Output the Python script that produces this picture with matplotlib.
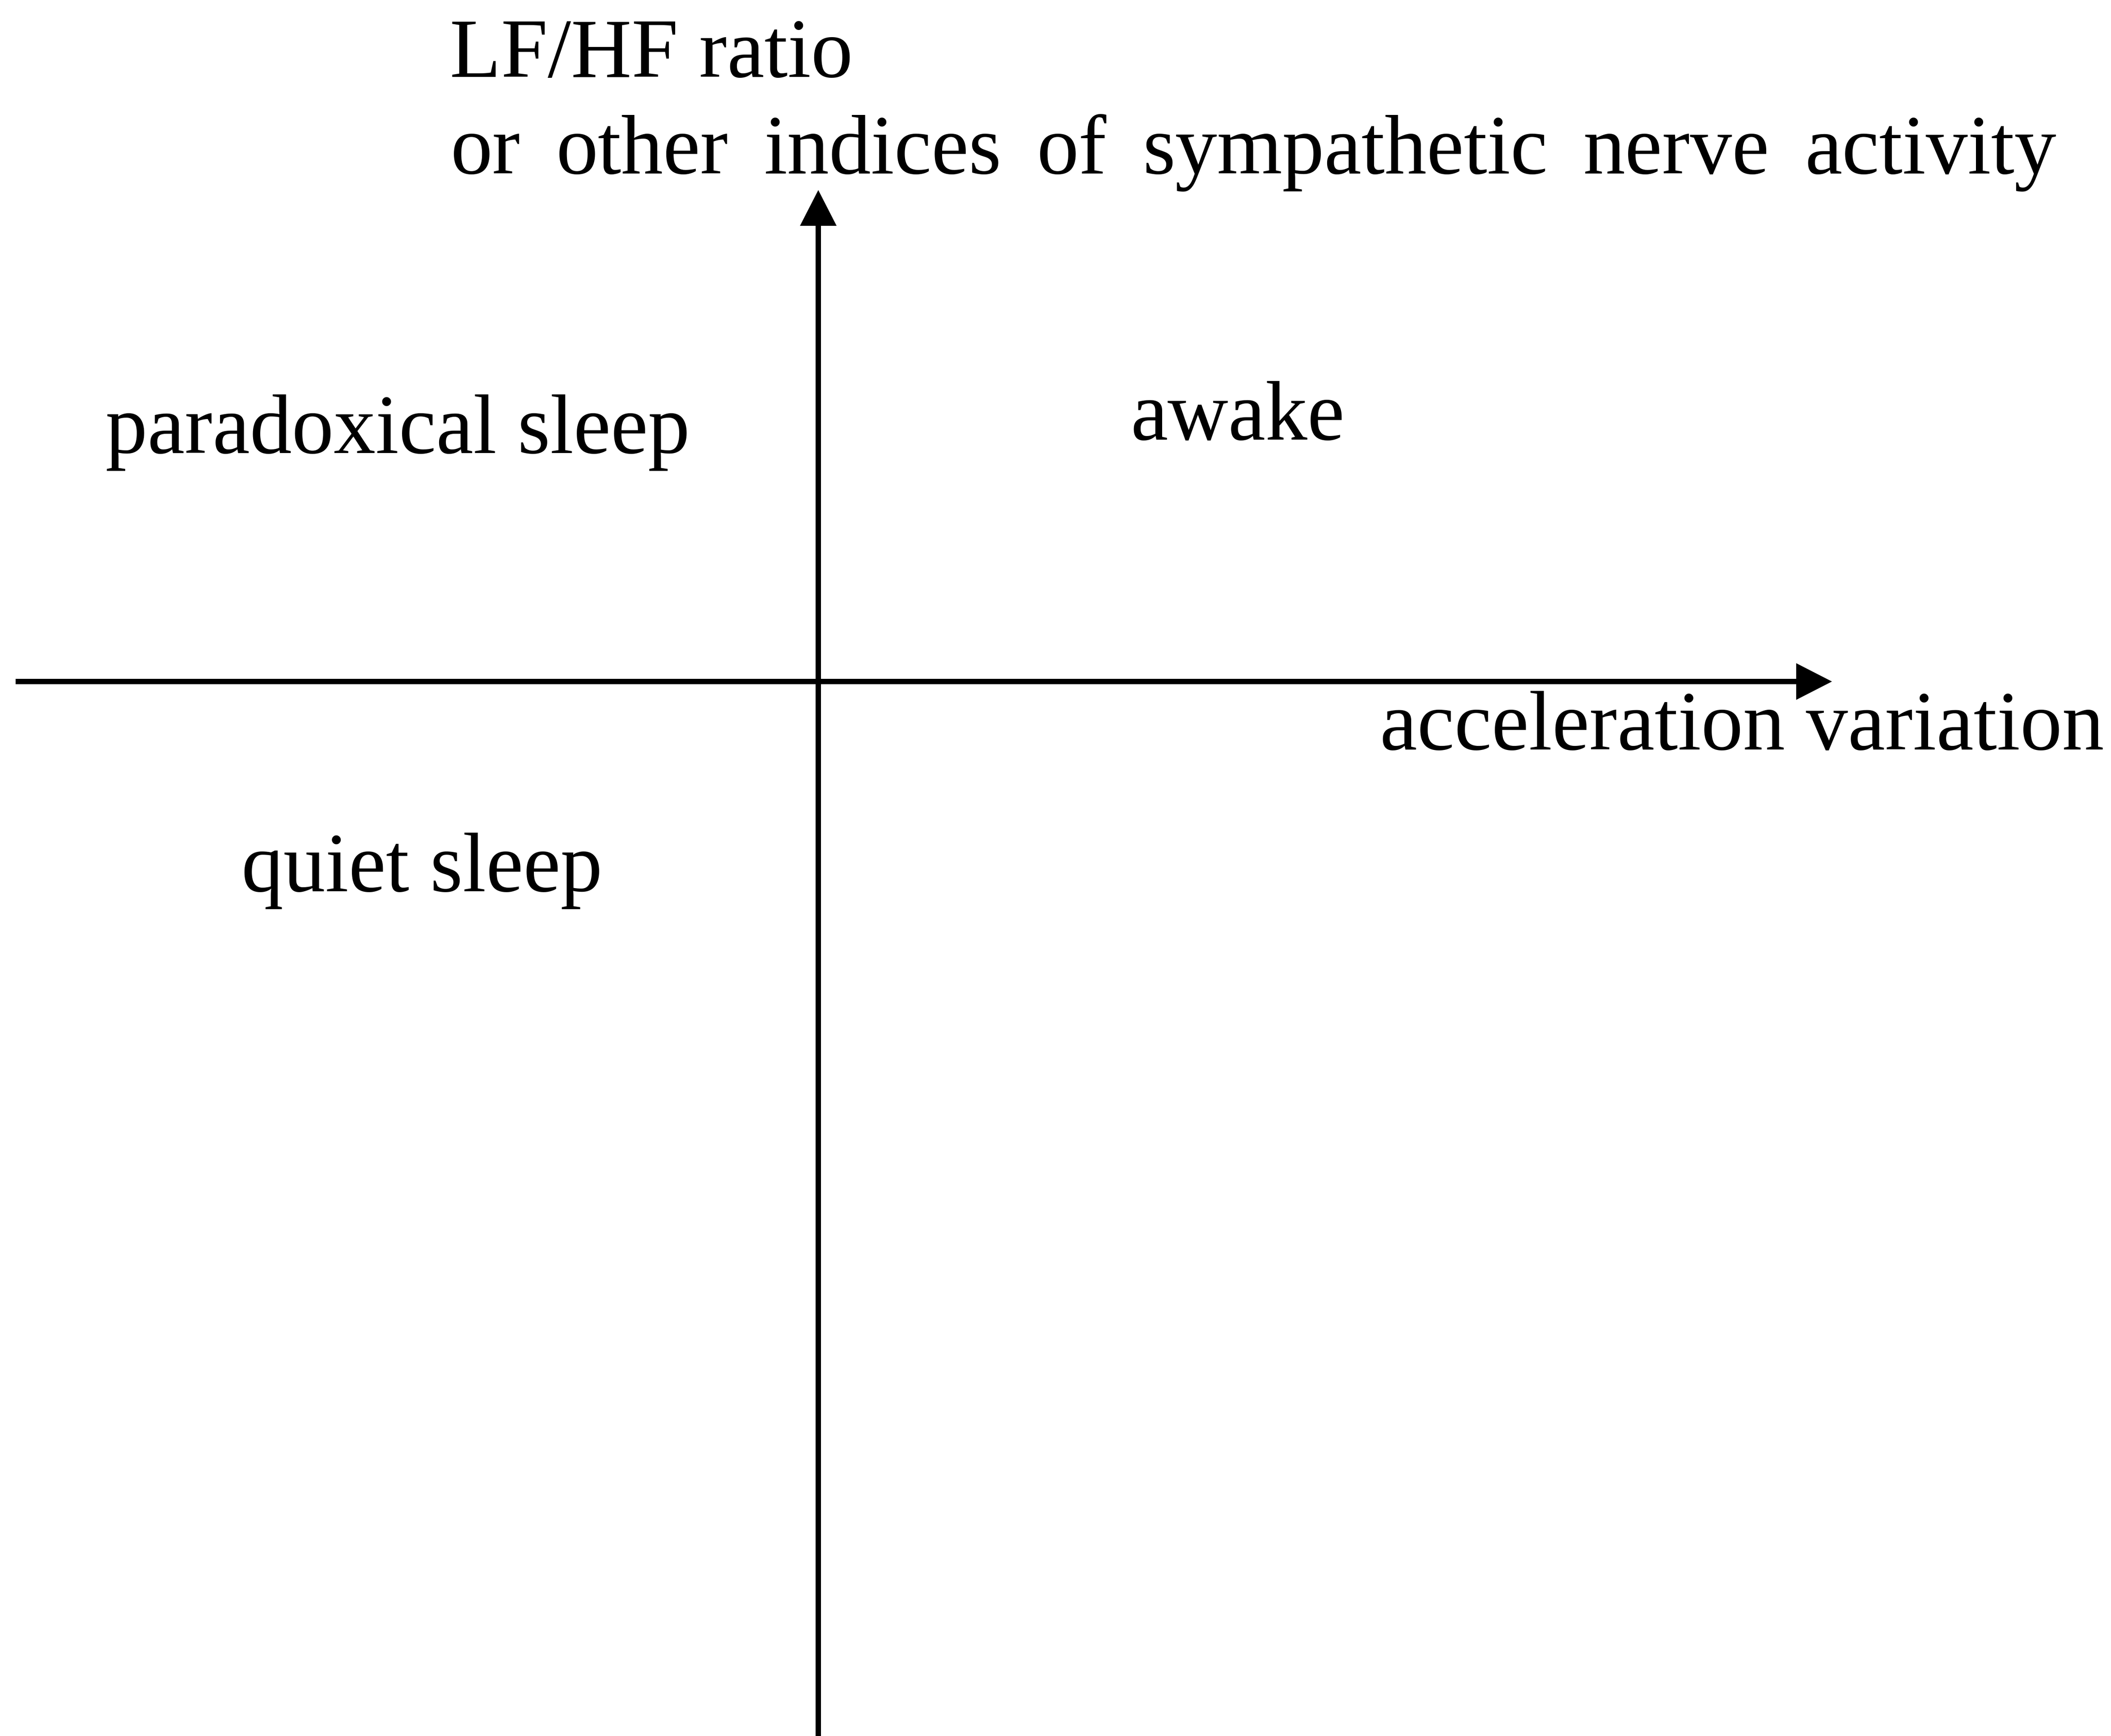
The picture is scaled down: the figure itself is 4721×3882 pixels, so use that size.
import matplotlib
matplotlib.use("Agg")
import matplotlib.pyplot as plt

# ---- content ----
y_axis_label_line1 = "LF/HF ratio"
y_axis_label_line2_words = ["or", "other", "indices", "of", "sympathetic", "nerve", "activity"]
x_axis_label = "acceleration variation"
quadrant_labels = ["paradoxical sleep", "awake", "quiet sleep"]

# ---- layout (pixel coordinates of the 4721x3882 canvas) ----
W, H = 4721, 3882
origin = (1830, 1524)
x_axis_start, x_axis_tip = 35, 4097
y_axis_start, y_axis_tip = 3890, 425
ylabel1_pos = (1006, 172)
ylabel2_baseline = 388
ylabel2_span = (1008, 4599)   # justified line: left and right edge
xlabel_pos = (3086, 1676)
quadrant_pos = [(236, 1013), (2528, 983), (540, 1993)]
FS = 135
LW = 12
HEAD_W, HEAD_L = 82, 80

fig = plt.figure(figsize=(W / 100, H / 100), dpi=100)
ax = fig.add_axes([0, 0, 1, 1])
ax.set_xlim(0, W)
ax.set_ylim(H, 0)
ax.axis("off")

# horizontal axis with arrow
ax.arrow(x_axis_start, origin[1], x_axis_tip - x_axis_start, 0, width=LW,
         head_width=HEAD_W, head_length=HEAD_L, length_includes_head=True,
         color="black", linewidth=0)
# vertical axis with arrow
ax.arrow(origin[0], y_axis_start, 0, y_axis_tip - y_axis_start, width=LW,
         head_width=HEAD_W, head_length=HEAD_L, length_includes_head=True,
         color="black", linewidth=0)

font = dict(family=["Liberation Serif", "DejaVu Serif"], fontsize=FS, color="black")
ax.text(ylabel1_pos[0], ylabel1_pos[1], y_axis_label_line1, ha="left", va="baseline", **font)

# justified second line of the y label
renderer = fig.canvas.get_renderer()
word_artists = [ax.text(0, ylabel2_baseline, w, ha="left", va="baseline", **font)
                for w in y_axis_label_line2_words]
widths = [a.get_window_extent(renderer).width for a in word_artists]
gap = (ylabel2_span[1] - ylabel2_span[0] - sum(widths)) / (len(widths) - 1)
x = ylabel2_span[0]
for a, w in zip(word_artists, widths):
    a.set_x(x)
    x += w + gap

ax.text(xlabel_pos[0], xlabel_pos[1], x_axis_label, ha="left", va="baseline", **font)
for txt, (x, y) in zip(quadrant_labels, quadrant_pos):
    ax.text(x, y, txt, ha="left", va="baseline", **font)

fig.savefig("out.png", dpi=100, facecolor="white")
